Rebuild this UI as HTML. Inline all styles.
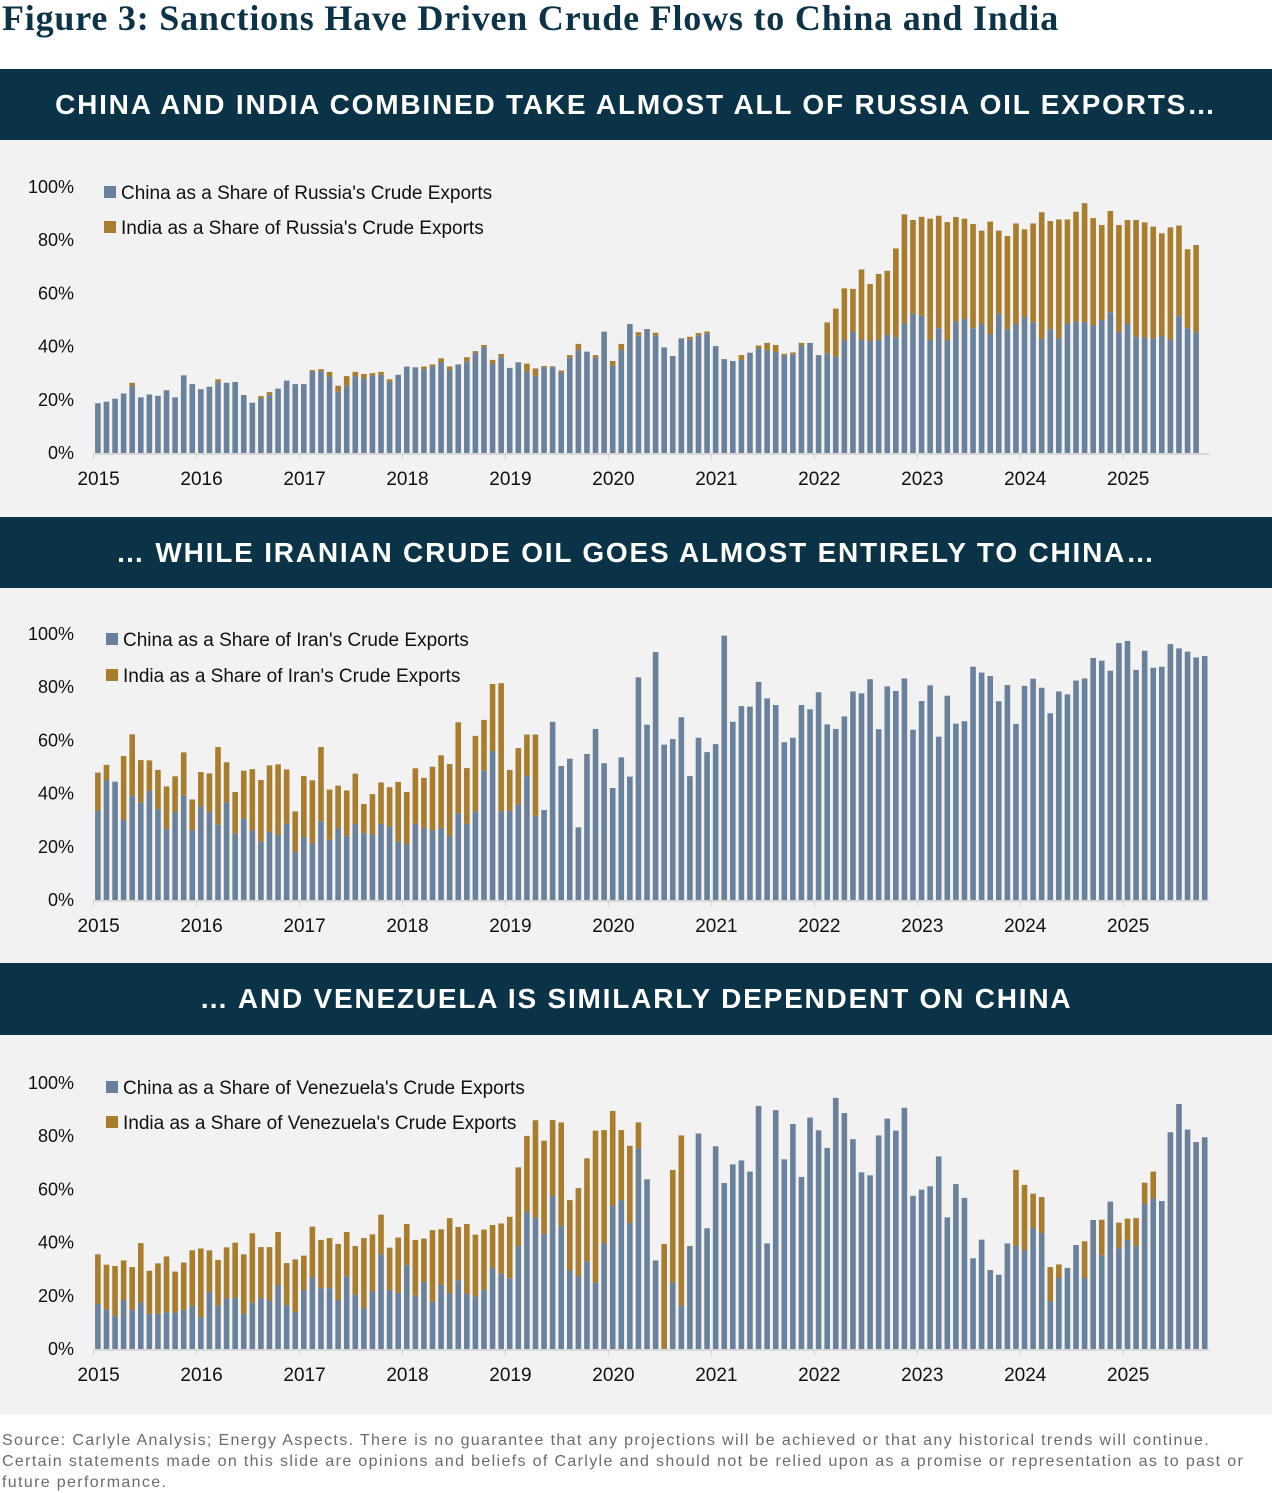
<!DOCTYPE html>
<html><head><meta charset="utf-8"><style>
body{margin:0;width:1272px;height:1493px;background:#fff;position:relative;overflow:hidden;font-family:"Liberation Sans",sans-serif}
.title{position:absolute;left:2px;top:-3px;font-family:"Liberation Serif",serif;font-weight:bold;font-size:36px;color:#0d3349;white-space:nowrap;letter-spacing:0.8px}
.hdr{position:absolute;left:0;width:1272px;height:71px;background:#0b3348;color:#fff;font-weight:bold;font-size:28px;letter-spacing:1.8px;text-align:center;line-height:71px;white-space:nowrap}
.bg{position:absolute;left:0;width:1272px;background:#f2f2f2}
.foot{position:absolute;left:2px;top:1430px;font-size:16px;line-height:21px;color:#6b6b6b;letter-spacing:1.35px;width:1268px;white-space:nowrap}
svg{position:absolute;left:0;top:0}
</style></head><body>
<div class="title">Figure 3: Sanctions Have Driven Crude Flows to China and India</div>
<div class="hdr" style="top:69px">CHINA AND INDIA COMBINED TAKE ALMOST ALL OF RUSSIA OIL EXPORTS…</div>
<div class="bg" style="top:140px;height:377px"></div>
<div class="hdr" style="top:517px">… WHILE IRANIAN CRUDE OIL GOES ALMOST ENTIRELY TO CHINA…</div>
<div class="bg" style="top:588px;height:375px"></div>
<div class="hdr" style="top:963px;height:72px">… AND VENEZUELA IS SIMILARLY DEPENDENT ON CHINA</div>
<div class="bg" style="top:1035px;height:380px"></div>
<div class="foot">Source: Carlyle Analysis; Energy Aspects. There is no guarantee that any projections will be achieved or that any historical trends will continue.<br>Certain statements made on this slide are opinions and beliefs of Carlyle and should not be relied upon as a promise or representation as to past or<br>future performance.</div>
<svg id="charts" width="1272" height="1493"></svg>
<script>
const yearLabels=["2015","2016","2017","2018","2019","2020","2021","2022","2023","2024","2025"];
const yTicks=[0,20,40,60,80,100];
const russiaChina=[18.7,19.3,20.4,22.4,25.2,20.9,22,21.5,23.6,20.9,29.2,25.9,24,24.9,26.6,26.4,26.7,21.8,18.9,20.5,21.7,24.2,27.2,25.9,25.9,30.7,30.7,28.7,23,25.3,28.9,28,29,29.4,26.7,29.4,32.5,32.2,31.5,32.5,34,31.2,33.3,34.3,37.5,39.7,33.5,36,32,34.1,30.6,29,32.2,32.2,30.2,35.8,38.7,38.1,35.8,45.6,32.8,38.7,48.5,44.1,46.6,44.1,39.7,36.5,43.1,42.5,44.1,45,40.2,35.3,34.6,35,37.7,39.3,38.7,38,36.6,37.1,40.4,41.4,36.8,37.5,36.2,42.5,45.5,42.5,42.1,42.5,44.4,43.5,48.7,52.3,51.6,42.5,46.9,42.5,49.4,50.4,46.9,48.5,44.7,52.3,46.5,48.5,51.1,49.1,42.9,46.5,43.1,48.7,49.4,49.2,47.9,50,52.9,45.4,48.5,43.7,43.4,43.1,44,42.7,51.6,46.9,45.4];
const russiaTotal=[18.7,19.3,20.4,22.4,26.4,20.9,22,21.5,23.6,20.9,29.2,25.9,24,24.9,27.7,26.4,26.7,21.8,18.9,21.4,22.9,24.2,27.2,25.9,25.9,31.2,31.5,30.5,25.3,28.9,30.5,29.7,30,30.5,27.7,29.4,32.5,32.2,32.5,33.3,35.6,32.5,33.3,36,38.3,40.6,35,37.2,32,34.1,33.6,31.8,32.7,32.6,31,36.8,41,38.1,36.8,45.6,34.6,41,48.5,45.4,46.6,45.2,39.7,36.5,43.1,43.7,45.1,45.7,40.2,35.3,34.6,36.8,37.7,40.4,41.4,40.6,37.3,37.8,41.4,41.4,36.8,49.1,54.3,61.9,61.7,69,63.5,67.3,68.5,76.9,89.7,87.6,88.8,88.1,89.2,86.8,88.7,88.1,86.1,83.6,87,83.6,81.6,86.3,84.1,86.3,90.5,87.2,87.8,87.8,90.7,93.9,88.3,85.7,91,85.7,87.6,87.6,86.7,85.1,82.6,84.8,85.5,76.6,78.2];
const iranChina=[33.5,45.1,44.5,30.1,39.2,36.6,41,34.2,26.6,33.1,39.2,26.3,35.1,33,28.3,36.6,24.9,30.6,26.1,21.9,25.6,24.6,28.6,18,23.6,21.3,29.6,22.6,26.9,24.1,28.4,25.1,24.6,28.6,27.6,21.9,20.9,28.7,27.1,26.3,27.1,24.1,32.6,28.6,33.2,48.6,56,33.2,33.6,35.8,46.6,31.6,33.8,67,50.4,53.1,27.3,54.9,64.3,51.4,42.1,53.6,46.4,83.7,65.9,93.2,58.4,60.5,68.7,46.6,61,55.6,58.6,99.4,67,72.9,72.7,82,75.8,73.3,59.3,61,73.3,71.7,78.1,66,64.3,69,78.4,77.7,83,64.2,80.3,78.6,83.3,64,74.8,80.7,61.4,76.8,66.3,67.2,87.7,85.5,84.2,74.7,80.8,66.2,80.5,83.2,79.8,70.2,78.4,77.3,82.5,83.3,91,90,86.2,96.6,97.4,86.5,93.7,87.3,87.7,96.2,94.6,93.4,91.2,91.7];
const iranTotal=[47.9,50.8,44.5,54.1,62.3,52.6,52.5,48.9,42.7,46.5,55.5,37.8,48.1,47.6,57.5,51.8,40.6,48.6,49.2,45.1,50.6,51,49.1,33.3,46.6,45,57.5,41.5,43,41.2,47.5,36.1,39.8,44.2,42.4,44.4,40.6,49.5,45.9,50.1,54.4,51.1,66.8,49.6,61.7,67.7,81.2,81.5,48.9,57.1,62.2,62.2,33.8,67,50.4,53.1,27.3,54.9,64.3,51.4,42.1,53.6,46.4,83.7,65.9,93.2,58.4,60.5,68.7,46.6,61,55.6,58.6,99.4,67,72.9,72.7,82,75.8,73.3,59.3,61,73.3,71.7,78.1,66,64.3,69,78.4,77.7,83,64.2,80.3,78.6,83.3,64,74.8,80.7,61.4,76.8,66.3,67.2,87.7,85.5,84.2,74.7,80.8,66.2,80.5,83.2,79.8,70.2,78.4,77.3,82.5,83.3,91,90,86.2,96.6,97.4,86.5,93.7,87.3,87.7,96.2,94.6,93.4,91.2,91.7];
const venChina=[16.9,14.9,12.5,18.4,14.7,17.5,13.2,13.2,13.8,13.7,14.7,16.2,11.9,21.4,16.3,19,19.2,13.2,17.4,19.2,18.2,23.9,16.5,13.9,22.2,26.9,22.9,22.9,18.4,27.1,20.4,15.4,21.6,35.6,22.2,21.1,31.5,20,25.2,17.8,24.1,20.9,25.8,20.7,19.7,22.2,30.5,28.3,26.6,38.7,51.4,49.4,43.2,57.5,46.2,29.7,27.4,32.8,24.9,39.7,53.8,56,47.4,75.4,63.8,33.3,0,24.9,16.2,38.7,81,45.4,76.2,62.4,69.4,70.9,66.7,91.4,39.7,89.8,71.3,84.6,64.7,87,82.2,75.6,94.4,88.7,78.9,66.4,65.3,80.3,86.6,82.1,90.7,57.6,59.9,61.2,72.4,49.5,62,56.8,34.1,41.1,29.7,27.9,39.7,38.7,37.2,45.5,43.6,17.9,26.7,30.5,39.1,26.7,48.5,35.2,55.4,37.8,41,38.8,54.5,56.6,55.6,81.5,92.1,82.5,77.8,79.6];
const venTotal=[35.6,31.7,31.2,33.3,30.8,39.8,29.4,32.2,34.8,29.1,32.5,37.1,37.8,37.1,33.5,38.2,40,35.6,43.5,38.3,38.3,44,32.3,33.7,35.1,46,41,41.7,39.5,44,38.7,41.7,43.1,50.5,38.1,41.9,47,41,41.5,44.7,45,49.2,45.9,47,43,44.9,46.6,47.2,49.7,68.3,80.1,86,78.3,86.1,85.2,56,60.5,71.7,82.1,82.3,89.5,82.3,76.4,85.2,63.8,33.3,39.5,67.3,80.3,38.7,81,45.4,76.2,62.4,69.4,70.9,66.7,91.4,39.7,89.8,71.3,84.6,64.7,87,82.2,75.6,94.4,88.7,78.9,66.4,65.3,80.3,86.6,82.1,90.7,57.6,59.9,61.2,72.4,49.5,62,56.8,34.1,41.1,29.7,27.9,39.7,67.3,61.7,58.4,57.1,30.8,31.8,30.5,39.1,40.5,48.5,48.6,55.4,47.5,49,49.2,62.5,66.7,55.6,81.5,92.1,82.5,77.8,79.6];

const NS="http://www.w3.org/2000/svg";
const svg=document.getElementById('charts');
const X0=93.6, MONTH=8.58, BARW=5.6;
function xSlot(i){return X0+MONTH*(i+0.5);}
function mk(tag,attrs,parent){const e=document.createElementNS(NS,tag);for(const k in attrs)e.setAttribute(k,attrs[k]);(parent||svg).appendChild(e);return e;}
const panels=[
 {key:'russia',zero:453,top:187,china:russiaChina,total:russiaTotal,legX:104,legY:[192,227],
  legs:["China as a Share of Russia's Crude Exports","India as a Share of Russia's Crude Exports"]},
 {key:'iran',zero:900,top:634,china:iranChina,total:iranTotal,legX:106,legY:[639,675],
  legs:["China as a Share of Iran's Crude Exports","India as a Share of Iran's Crude Exports"]},
 {key:'venezuela',zero:1349,top:1083,china:venChina,total:venTotal,legX:106,legY:[1087,1122],
  legs:["China as a Share of Venezuela's Crude Exports","India as a Share of Venezuela's Crude Exports"]}
];
panels.forEach(p=>{
  const g=mk('g',{});
  
  
  const yS=v=>p.zero-(p.zero-p.top)*v/100;
  yTicks.forEach(t=>{
    const tx=mk('text',{x:74,y:yS(t)+6,'text-anchor':'end','font-size':18,fill:'#111','font-family':'Liberation Sans, sans-serif'},g);
    tx.textContent=t+'%';
    
    
  });
  const ax=mk('line',{x1:X0,x2:X0+MONTH*130,y1:p.zero+1,y2:p.zero+1,stroke:'#d0d0d0','stroke-width':1.5},g);
  
  
  yearLabels.forEach((yl,j)=>{
    const tk=mk('line',{x1:X0+12*MONTH*j,x2:X0+12*MONTH*j,y1:p.zero,y2:p.zero+6,stroke:'#d0d0d0','stroke-width':1},g);
    
    
    const tx=mk('text',{x:X0+12*MONTH*j+5,y:p.zero+32,'text-anchor':'middle','font-size':19,fill:'#111','font-family':'Liberation Sans, sans-serif'},g);
    tx.textContent=yl;
    
    
  });
  p.china.forEach((c,i)=>{
    const t=p.total[i];
    if(t>c){
      const r=mk('rect',{x:xSlot(i)-BARW/2,y:yS(t),width:BARW,height:yS(c)-yS(t),fill:'#a87d2e'},g);
      
      
    }
    if(c>0){
      const r=mk('rect',{x:xSlot(i)-BARW/2,y:yS(c),width:BARW,height:p.zero-yS(c),fill:'#6a819b'},g);
      
      
    }
  });
  const cols=['#6a819b','#a87d2e'];
  p.legs.forEach((l,k)=>{
    const sq=mk('rect',{x:p.legX,y:p.legY[k]-6,width:12,height:12,fill:cols[k]},g);
    
    
    const tx=mk('text',{x:p.legX+17,y:p.legY[k]+7,'font-size':19,fill:'#111','font-family':'Liberation Sans, sans-serif'},g);
    tx.textContent=l;
    
    
  });
});
</script>
</body></html>
